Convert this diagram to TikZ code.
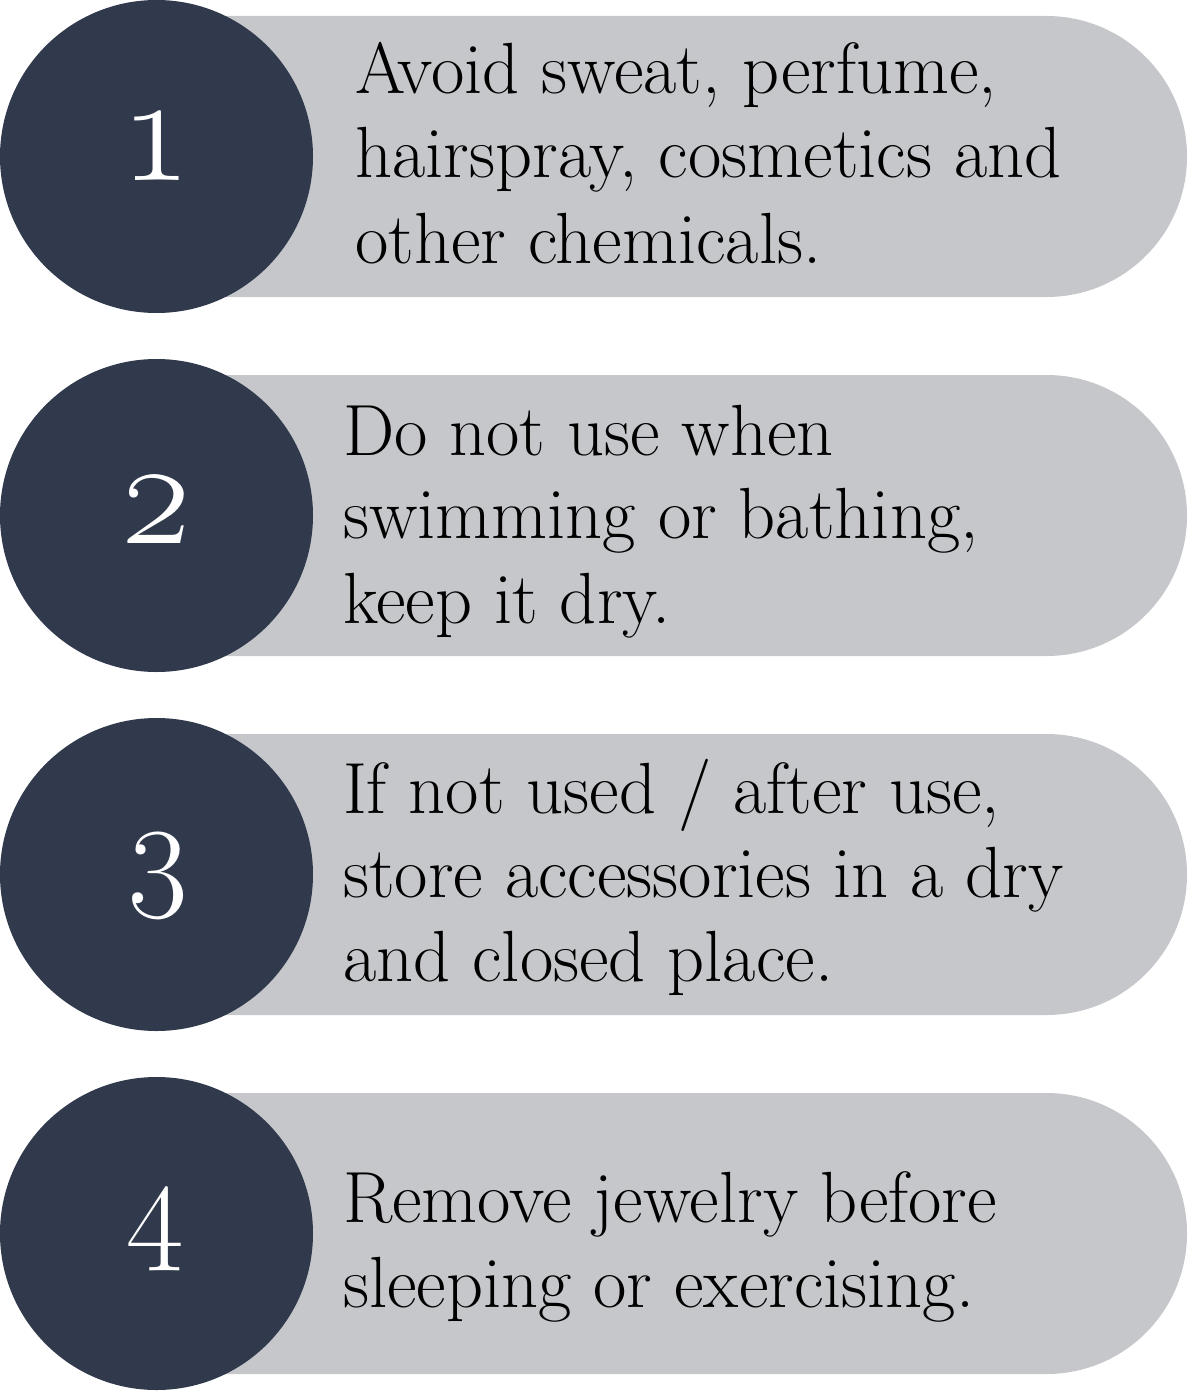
\documentclass[tikz,border=0pt]{standalone}
\usepackage{fontspec}
\newfontfamily\numfont{Latin Modern Roman}
\newcommand\osnum[1]{{\numfont\XeTeXglyph\XeTeXglyphindex"#1.oldstyle"\relax}}
\definecolor{navy}{HTML}{303A4C}
\definecolor{pillgray}{HTML}{C6C7CB}
\begin{document}
\begin{tikzpicture}[x=1pt,y=-1pt,
  disc/.style={circle,fill=navy,draw=none,minimum size=313pt,inner sep=0pt},
  num/.style={text=white,font=\fontsize{#1}{#1}\selectfont,inner sep=0pt,anchor=base},
  txt/.style={text=black,font=\fontsize{72.5}{85}\selectfont,inner sep=0pt,anchor=base west}]
\useasboundingbox (0,0) rectangle (1188,1391);
% pills
\foreach \cy in {156.5,515.5,874.5,1233.5}{
  \pgfmathsetmacro\ytop{\cy-140.5}
  \pgfmathsetmacro\ybot{\cy+140.5}
  \fill[pillgray] (157,\ytop) -- (1046.5,\ytop)
     arc[start angle=-90,end angle=90,radius=140.5] -- (157,\ybot) -- cycle;
}
% discs
\node[disc] (c1) at (156.5,156.5) {};
\node[disc] (c2) at (156.5,515.5) {};
\node[disc] (c3) at (156.5,874.5) {};
\node[disc] (c4) at (156.5,1233.5) {};
\node[num=150] (n1) at (156.5,180.5) {\osnum{one}};
\node[num=148] (n2) at (156.5,543) {\osnum{two}};
\node[num=130] (n3) at (158,892) {\osnum{three}};
\node[num=125] (n4) at (155,1246) {\osnum{four}};
% texts
\node[txt] (t11) at (355,94) {Avoid sweat, perfume,};
\node[txt] (t12) at (355,178) {hairspray, cosmetics and};
\node[txt] (t13) at (355,263) {other chemicals.};
\node[txt] (t21) at (343,455) {Do not use when};
\node[txt] (t22) at (343,538) {swimming or bathing,};
\node[txt] (t23) at (343,623) {keep it dry.};
\node[txt] (t31) at (343,813) {If not used / after use,};
\node[txt] (t32) at (343,897) {store accessories in a dry};
\node[txt] (t33) at (343,981) {and closed place.};
\node[txt] (t41) at (343,1222) {Remove jewelry before};
\node[txt] (t42) at (343,1307) {sleeping or exercising.};
\end{tikzpicture}
\end{document}
